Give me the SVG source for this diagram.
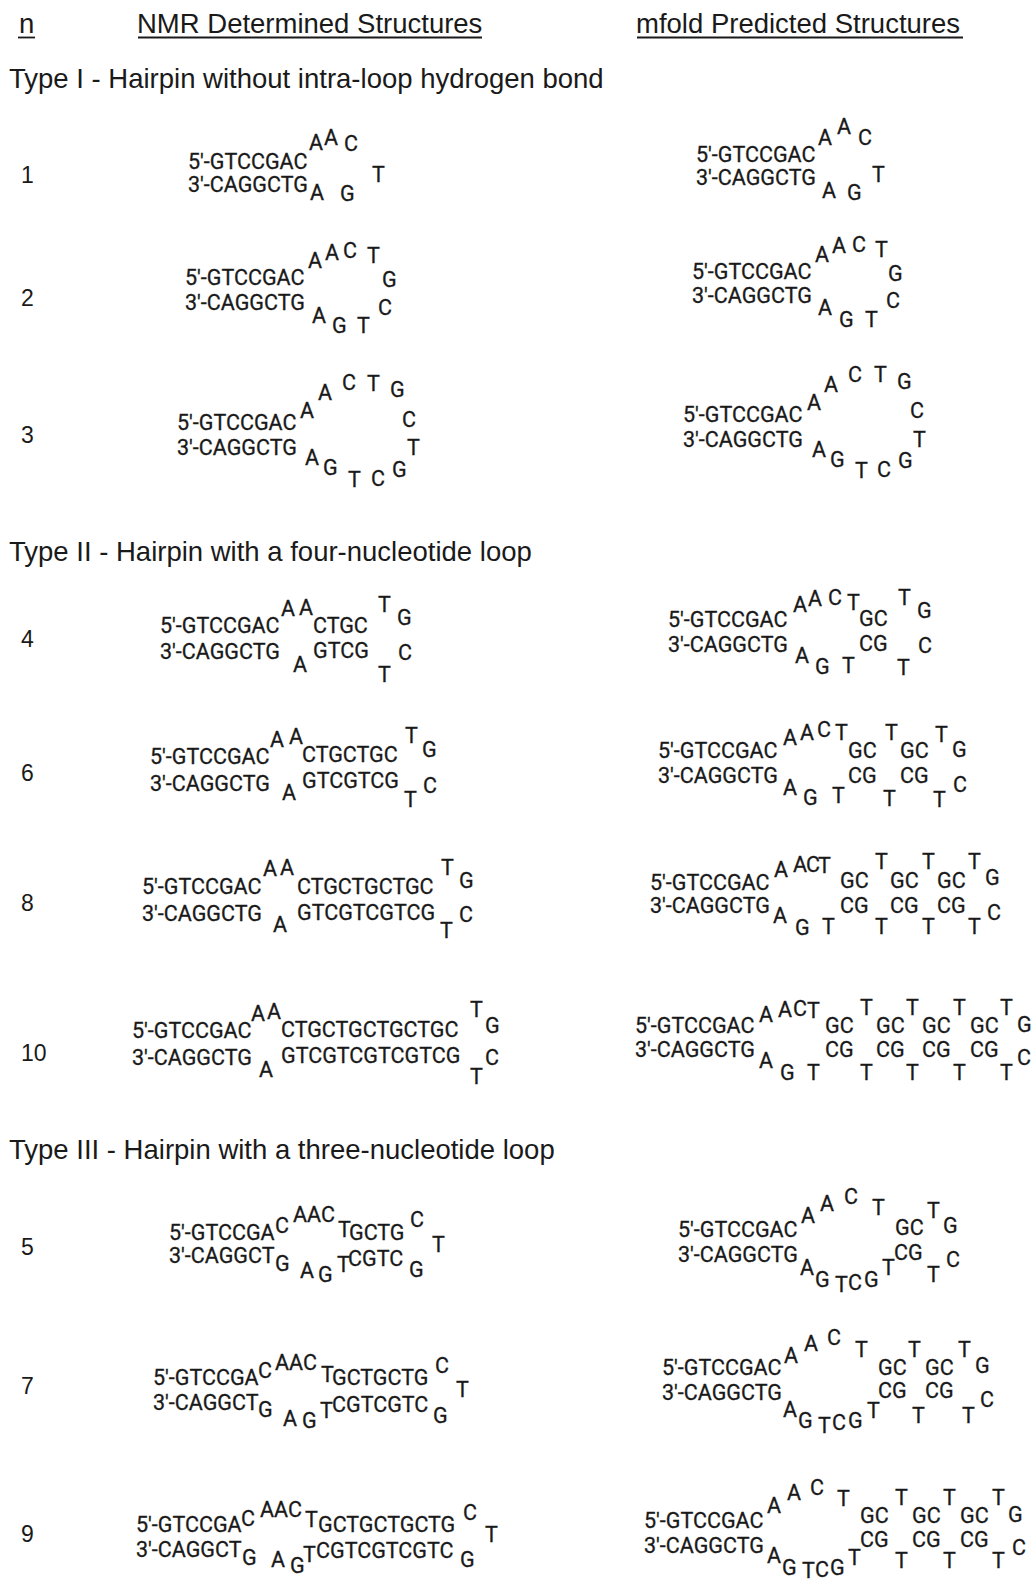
<svg xmlns="http://www.w3.org/2000/svg" width="1033" height="1580" viewBox="0 0 1033 1580">
<style>
text{font-family:"Liberation Sans",Arial,sans-serif;fill:#1a1a1a}
.h{font-size:27.5px}
.n{font-size:23px}
.s text{font-family:Roboto,"Liberation Sans",Arial,sans-serif;font-size:21.5px;stroke:#1a1a1a;stroke-width:0.3}
.u{stroke:#1a1a1a;stroke-width:1.8}
</style>
<rect width="1033" height="1580" fill="#fff"/>
<g id="header">
<text class="h" x="19" y="33">n</text>
<line class="u" x1="18" y1="37.5" x2="35" y2="37.5"/>
<text class="h" x="137" y="33">NMR Determined Structures</text>
<line class="u" x1="138" y1="37.5" x2="482" y2="37.5"/>
<text class="h" x="636" y="33">mfold Predicted Structures</text>
<line class="u" x1="637" y1="37.5" x2="963" y2="37.5"/>
</g>
<g id="sections">
<text class="h" x="9" y="88">Type I - Hairpin without intra-loop hydrogen bond</text>
<text class="h" x="9" y="561">Type II - Hairpin with a four-nucleotide loop</text>
<text class="h" x="9" y="1159">Type III - Hairpin with a three-nucleotide loop</text>
</g>
<g id="row-numbers" class="n">
<text x="21" y="183">1</text>
<text x="21" y="306">2</text>
<text x="21" y="443">3</text>
<text x="21" y="647">4</text>
<text x="21" y="781">6</text>
<text x="21" y="911">8</text>
<text x="21" y="1061">10</text>
<text x="21" y="1255">5</text>
<text x="21" y="1394">7</text>
<text x="21" y="1542">9</text>
</g>
<g id="connectors"></g>

<g id="n1-nmr" class="s">
<text x="188" y="169">5'-GTCCGAC</text><text x="188" y="192">3'-CAGGCTG</text>
<text x="309" y="150">A</text><text x="324" y="145">A</text><text x="344" y="151">C</text>
<text x="372" y="182">T</text><text x="310" y="200">A</text><text x="340" y="201">G</text>
</g>
<g id="n1-mfold" class="s">
<text x="696" y="162">5'-GTCCGAC</text><text x="696" y="185">3'-CAGGCTG</text>
<text x="818" y="145">A</text><text x="837" y="134">A</text><text x="858" y="145">C</text>
<text x="872" y="182">T</text><text x="822" y="198">A</text><text x="847" y="200">G</text>
</g>

<g id="n2-nmr" class="s">
<text x="185" y="285">5'-GTCCGAC</text><text x="185" y="310">3'-CAGGCTG</text>
<text x="308" y="268">A</text><text x="325" y="260">A</text><text x="343" y="258">C</text><text x="367" y="263">T</text>
<text x="382" y="287">G</text><text x="378" y="315">C</text>
<text x="312" y="323">A</text><text x="332" y="333">G</text><text x="357" y="333">T</text>
</g>
<g id="n2-mfold" class="s">
<text x="692" y="279">5'-GTCCGAC</text><text x="692" y="303">3'-CAGGCTG</text>
<text x="815" y="262">A</text><text x="832" y="253">A</text><text x="852" y="252">C</text><text x="875" y="257">T</text>
<text x="888" y="281">G</text><text x="886" y="308">C</text>
<text x="818" y="315">A</text><text x="839" y="327">G</text><text x="865" y="327">T</text>
</g>

<g id="n3-nmr" class="s">
<text x="177" y="430">5'-GTCCGAC</text><text x="177" y="455">3'-CAGGCTG</text>
<text x="300" y="418">A</text><text x="318" y="400">A</text><text x="342" y="390">C</text><text x="367" y="391">T</text><text x="390" y="397">G</text>
<text x="402" y="427">C</text><text x="407" y="455">T</text>
<text x="392" y="477">G</text><text x="371" y="486">C</text><text x="348" y="487">T</text><text x="323" y="475">G</text><text x="305" y="465">A</text>
</g>
<g id="n3-mfold" class="s">
<text x="683" y="422">5'-GTCCGAC</text><text x="683" y="447">3'-CAGGCTG</text>
<text x="807" y="410">A</text><text x="824" y="392">A</text><text x="848" y="382">C</text><text x="874" y="382">T</text><text x="897" y="389">G</text>
<text x="910" y="418">C</text><text x="913" y="447">T</text>
<text x="898" y="468">G</text><text x="877" y="477">C</text><text x="855" y="478">T</text><text x="830" y="467">G</text><text x="812" y="457">A</text>
</g>

<g id="n4-nmr" class="s">
<text x="160" y="633">5'-GTCCGAC</text><text x="160" y="659">3'-CAGGCTG</text>
<text x="281" y="616">A</text><text x="299" y="615">A</text><text x="313" y="633">CTGC</text>
<text x="378" y="612">T</text><text x="397" y="625">G</text>
<text x="313" y="658">GTCG</text><text x="293" y="672">A</text><text x="378" y="682">T</text><text x="398" y="660">C</text>
</g>
<g id="n4-mfold" class="s">
<text x="668" y="627">5'-GTCCGAC</text><text x="668" y="652">3'-CAGGCTG</text>
<text x="793" y="612">A</text><text x="808" y="606">A</text><text x="828" y="605">C</text><text x="847" y="610">T</text>
<text x="859" y="626">GC</text><text x="898" y="605">T</text><text x="917" y="618">G</text>
<text x="859" y="651">CG</text><text x="918" y="653">C</text>
<text x="795" y="663">A</text><text x="815" y="674">G</text><text x="842" y="673">T</text><text x="897" y="675">T</text>
</g>

<g id="n6-nmr" class="s">
<text x="150" y="764">5'-GTCCGAC</text><text x="150" y="791">3'-CAGGCTG</text>
<text x="270" y="747">A</text><text x="289" y="744">A</text><text x="302" y="762">CTGCTGC</text>
<text x="405" y="743">T</text><text x="422" y="757">G</text>
<text x="302" y="788">GTCGTCG</text><text x="282" y="800">A</text><text x="404" y="807">T</text><text x="423" y="793">C</text>
</g>
<g id="n6-mfold" class="s">
<text x="658" y="758">5'-GTCCGAC</text><text x="658" y="783">3'-CAGGCTG</text>
<text x="783" y="745">A</text><text x="800" y="740">A</text><text x="817" y="737">C</text><text x="835" y="740">T</text>
<text x="848" y="758">GC</text><text x="885" y="740">T</text><text x="900" y="758">GC</text><text x="935" y="742">T</text><text x="952" y="757">G</text>
<text x="848" y="783">CG</text><text x="900" y="783">CG</text><text x="953" y="792">C</text>
<text x="783" y="795">A</text><text x="803" y="805">G</text><text x="832" y="803">T</text><text x="883" y="806">T</text><text x="933" y="807">T</text>
</g>

<g id="n8-nmr" class="s">
<text x="142" y="894">5'-GTCCGAC</text><text x="142" y="921">3'-CAGGCTG</text>
<text x="263" y="876">A</text><text x="280" y="875">A</text><text x="297" y="894">CTGCTGCTGC</text>
<text x="441" y="875">T</text><text x="459" y="888">G</text>
<text x="297" y="920">GTCGTCGTCG</text><text x="273" y="932">A</text><text x="440" y="938">T</text><text x="459" y="922">C</text>
</g>
<g id="n8-mfold" class="s">
<text x="650" y="890">5'-GTCCGAC</text><text x="650" y="913">3'-CAGGCTG</text>
<text x="774" y="877">A</text><text x="793" y="872">A</text><text x="806" y="872">C</text><text x="818" y="873">T</text>
<text x="840" y="888">GC</text><text x="875" y="869">T</text><text x="890" y="888">GC</text><text x="922" y="869">T</text><text x="937" y="888">GC</text><text x="968" y="869">T</text><text x="985" y="885">G</text>
<text x="840" y="913">CG</text><text x="890" y="913">CG</text><text x="937" y="913">CG</text><text x="987" y="920">C</text>
<text x="773" y="923">A</text><text x="795" y="935">G</text><text x="822" y="934">T</text><text x="875" y="934">T</text><text x="922" y="934">T</text><text x="968" y="934">T</text>
</g>

<g id="n10-nmr" class="s">
<text x="132" y="1038">5'-GTCCGAC</text><text x="132" y="1065">3'-CAGGCTG</text>
<text x="251" y="1021">A</text><text x="267" y="1019">A</text><text x="281" y="1037">CTGCTGCTGCTGC</text>
<text x="470" y="1017">T</text><text x="485" y="1033">G</text>
<text x="281" y="1063">GTCGTCGTCGTCG</text><text x="259" y="1077">A</text><text x="470" y="1084">T</text><text x="485" y="1065">C</text>
</g>
<g id="n10-mfold" class="s">
<text x="635" y="1033">5'-GTCCGAC</text><text x="635" y="1057">3'-CAGGCTG</text>
<text x="759" y="1022">A</text><text x="778" y="1017">A</text><text x="793" y="1016">C</text><text x="807" y="1018">T</text>
<text x="825" y="1033">GC</text><text x="860" y="1015">T</text><text x="876" y="1033">GC</text><text x="906" y="1015">T</text><text x="922" y="1033">GC</text><text x="953" y="1015">T</text><text x="970" y="1033">GC</text><text x="1000" y="1015">T</text><text x="1017" y="1032">G</text>
<text x="825" y="1057">CG</text><text x="876" y="1057">CG</text><text x="922" y="1057">CG</text><text x="970" y="1057">CG</text><text x="1017" y="1065">C</text>
<text x="759" y="1068">A</text><text x="780" y="1080">G</text><text x="807" y="1080">T</text><text x="860" y="1080">T</text><text x="906" y="1080">T</text><text x="953" y="1080">T</text><text x="1000" y="1080">T</text>
</g>

<g id="n5-nmr" class="s">
<text x="169" y="1240">5'-GTCCGA</text><text x="275" y="1233">C</text><text x="293" y="1222">AAC</text><text x="338" y="1237">T</text><text x="349" y="1240">GCTG</text>
<text x="410" y="1227">C</text><text x="432" y="1252">T</text>
<text x="169" y="1263">3'-CAGGCT</text><text x="275" y="1271">G</text><text x="300" y="1278">A</text><text x="318" y="1282">G</text><text x="337" y="1272">T</text><text x="348" y="1266">CGTC</text><text x="409" y="1277">G</text>
</g>
<g id="n5-mfold" class="s">
<text x="678" y="1237">5'-GTCCGAC</text><text x="678" y="1262">3'-CAGGCTG</text>
<text x="801" y="1223">A</text><text x="820" y="1211">A</text><text x="844" y="1204">C</text><text x="872" y="1215">T</text>
<text x="895" y="1235">GC</text><text x="927" y="1218">T</text><text x="943" y="1233">G</text>
<text x="894" y="1260">CG</text><text x="927" y="1282">T</text><text x="946" y="1267">C</text>
<text x="800" y="1275">A</text><text x="815" y="1287">G</text><text x="835" y="1292">T</text><text x="848" y="1290">C</text><text x="864" y="1287">G</text><text x="882" y="1275">T</text>
</g>

<g id="n7-nmr" class="s">
<text x="153" y="1385">5'-GTCCGA</text><text x="258" y="1378">C</text><text x="275" y="1370">AAC</text><text x="321" y="1382">T</text><text x="332" y="1385">GCTGCTG</text>
<text x="435" y="1373">C</text><text x="456" y="1397">T</text>
<text x="153" y="1410">3'-CAGGCT</text><text x="258" y="1417">G</text><text x="283" y="1426">A</text><text x="302" y="1428">G</text><text x="320" y="1418">T</text><text x="332" y="1412">CGTCGTC</text><text x="433" y="1423">G</text>
</g>
<g id="n7-mfold" class="s">
<text x="662" y="1375">5'-GTCCGAC</text><text x="662" y="1400">3'-CAGGCTG</text>
<text x="784" y="1363">A</text><text x="804" y="1351">A</text><text x="827" y="1345">C</text><text x="855" y="1357">T</text>
<text x="878" y="1375">GC</text><text x="908" y="1357">T</text><text x="925" y="1375">GC</text><text x="958" y="1357">T</text><text x="975" y="1373">G</text>
<text x="878" y="1398">CG</text><text x="925" y="1398">CG</text><text x="980" y="1407">C</text>
<text x="783" y="1417">A</text><text x="798" y="1428">G</text><text x="818" y="1433">T</text><text x="832" y="1430">C</text><text x="848" y="1428">G</text><text x="867" y="1418">T</text>
<text x="912" y="1423">T</text><text x="962" y="1423">T</text>
</g>

<g id="n9-nmr" class="s">
<text x="136" y="1532">5'-GTCCGA</text><text x="241" y="1526">C</text><text x="260" y="1517">AAC</text><text x="305" y="1527">T</text><text x="318" y="1532">GCTGCTGCTG</text>
<text x="463" y="1520">C</text><text x="485" y="1542">T</text>
<text x="136" y="1557">3'-CAGGCT</text><text x="242" y="1565">G</text><text x="271" y="1567">A</text><text x="290" y="1573">G</text><text x="303" y="1562">T</text><text x="316" y="1558">CGTCGTCGTC</text><text x="460" y="1567">G</text>
</g>
<g id="n9-mfold" class="s">
<text x="644" y="1528">5'-GTCCGAC</text><text x="644" y="1553">3'-CAGGCTG</text>
<text x="767" y="1513">A</text><text x="787" y="1500">A</text><text x="810" y="1495">C</text><text x="837" y="1506">T</text>
<text x="860" y="1523">GC</text><text x="895" y="1505">T</text><text x="912" y="1523">GC</text><text x="943" y="1505">T</text><text x="960" y="1523">GC</text><text x="992" y="1505">T</text><text x="1008" y="1522">G</text>
<text x="860" y="1547">CG</text><text x="912" y="1547">CG</text><text x="960" y="1547">CG</text><text x="1012" y="1555">C</text>
<text x="895" y="1568">T</text><text x="943" y="1568">T</text><text x="992" y="1568">T</text>
<text x="767" y="1563">A</text><text x="782" y="1575">G</text><text x="802" y="1578">T</text><text x="815" y="1577">C</text><text x="830" y="1575">G</text><text x="848" y="1565">T</text>
</g>
</svg>
